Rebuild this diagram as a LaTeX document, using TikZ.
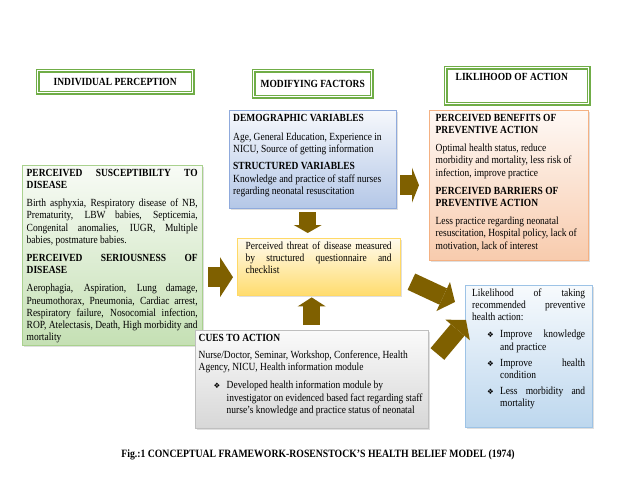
\documentclass[tikz,border=0pt]{standalone}
\usepackage{fontspec}
\setmainfont{Liberation Serif}[FakeStretch=0.87]
\newfontfamily\dingfont{DejaVu Sans}
\usepackage{tikz}
\usetikzlibrary{arrows.meta,positioning,calc,shadows}

\hyphenpenalty=10000
\exhyphenpenalty=10000
\tolerance=9999
\emergencystretch=2em

\definecolor{hdrgreen}{RGB}{112,173,71}
\definecolor{arrowbrown}{RGB}{127,96,0}
\definecolor{greenline}{RGB}{169,209,142}
\definecolor{greenfill}{RGB}{197,224,180}
\definecolor{blueline}{RGB}{143,170,220}
\definecolor{bluefill}{RGB}{180,199,231}
\definecolor{peachline}{RGB}{244,177,131}
\definecolor{peachfill}{RGB}{248,203,173}
\definecolor{yellowline}{RGB}{255,217,102}
\definecolor{yellowfill}{RGB}{255,220,110}
\definecolor{grayline}{RGB}{191,191,191}
\definecolor{grayfill}{RGB}{215,215,215}
\definecolor{skyline}{RGB}{157,195,230}
\definecolor{skyfill}{RGB}{189,215,238}

\newcommand{\dingitem}[2][5pt]{\par\vspace{#1}\hangindent=28pt\noindent\hspace*{15pt}\makebox[13pt][l]{\dingfont\fontsize{7.5}{7.5}\selectfont ❖}#2\par}

\begin{document}
\begin{tikzpicture}[x=1pt,y=-1pt,
  every node/.style={font=\fontsize{10.9}{12.2}\selectfont},
  hdrbox/.style={draw=hdrgreen,line width=1.4pt,double=white,double distance=0.9pt,fill=white,anchor=north west,
    font=\fontsize{10.9}{12.2}\selectfont\bfseries},
  panel/.style n args={4}{draw=#1,top color=#2!12!white,bottom color=#2,anchor=north west,align=#3,
    inner ysep=4pt,text height=7pt,text depth=#4,
    drop shadow={opacity=0.25,shadow xshift=1.5pt,shadow yshift=-1.5pt}},
  blockarrow/.style n args={3}{arrowbrown,line width=#1,-{Triangle[width=#2,length=#3,line width=0pt]}}]

  \useasboundingbox (0,0) rectangle (638,493);

  % column headings
  \node[hdrbox,minimum width=155pt,minimum height=22pt] (indiv) at (37,70) {INDIVIDUAL PERCEPTION};
  \node[hdrbox,minimum width=118pt,minimum height=26pt] (modif) at (253,70) {MODIFYING FACTORS};
  \node[hdrbox,text width=123pt,align=justify,inner xsep=10pt,inner ysep=6pt,text height=7pt,text depth=17pt] (likl) at (445,67) {LIKLIHOOD OF ACTION};

  % panels
  \node[panel={greenline}{greenfill}{justify}{165pt},text width=171pt,inner xsep=4.5pt] (suscept) at (22,165) {%
    \textbf{PERCEIVED SUSCEPTIBILTY TO DISEASE}\par\vspace{6pt}
    Birth asphyxia, Respiratory disease of NB, Prematurity, LBW babies, Septicemia, Congenital anomalies, IUGR, Multiple babies, postmature babies.\par\vspace{6pt}
    \textbf{PERCEIVED SERIOUSNESS OF DISEASE}\par\vspace{6pt}
    Aerophagia, Aspiration, Lung damage, Pneumothorax, Pneumonia, Cardiac arrest, Respiratory failure, Nosocomial infection, ROP, Atelectasis, Death, High morbidity and mortality};

  \node[panel={blueline}{bluefill}{justify}{83pt},text width=159pt,inner xsep=4pt] (demo) at (229,110) {\raggedright
    \textbf{DEMOGRAPHIC VARIABLES}\par\vspace{7pt}
    Age, General Education, Experience in NICU, Source of getting information\par\vspace{5pt}
    \textbf{STRUCTURED VARIABLES}\par
    Knowledge and practice of staff nurses regarding neonatal resuscitation\par};

  \node[panel={peachline}{peachfill}{justify}{135pt},text width=146pt,inner xsep=6.5pt] (benefit) at (429,110) {\raggedright
    \textbf{PERCEIVED BENEFITS OF PREVENTIVE ACTION}\par\vspace{6pt}
    Optimal health status, reduce morbidity and mortality, less risk of infection, improve practice\par\vspace{6pt}
    \textbf{PERCEIVED BARRIERS OF PREVENTIVE ACTION}\par\vspace{6pt}
    Less practice regarding neonatal resuscitation, Hospital policy, lack of motivation, lack of interest\par};

  \node[panel={yellowline}{yellowfill}{justify}{42pt},text width=146pt,inner xsep=8.5pt] (threat) at (237,238) {%
    Perceived threat of disease measured by structured questionnaire and checklist};

  \node[panel={grayline}{grayfill}{justify}{83pt},text width=226pt,inner xsep=3.5pt] (cues) at (195,330) {\raggedright
    \textbf{CUES TO ACTION}\par\vspace{5pt}
    Nurse/Doctor, Seminar, Workshop, Conference, Health Agency, NICU, Health information module
    \dingitem[6pt]{Developed health information module by investigator on evidenced based fact regarding staff nurse’s knowledge and practice status of neonatal}};

  \node[panel={skyline}{skyfill}{justify}{127pt},text width=113pt,inner xsep=7pt] (likel) at (465,285) {%
    Likelihood of taking recommended preventive health action:
    \dingitem[5pt]{Improve knowledge and practice}
    \dingitem[4pt]{Improve health condition}
    \dingitem[4pt]{Less morbidity and mortality}};

  \node[font=\fontsize{11.2}{12}\selectfont\bfseries] (caption) at (318,455) {Fig.:1 CONCEPTUAL FRAMEWORK-ROSENSTOCK’S HEALTH BELIEF MODEL (1974)};

  % block arrows
  \coordinate (sarr) at ($(suscept.east)+(0,22)$);
  \coordinate (darr) at ($(demo.east)+(0,26)$);
  \coordinate (dtop) at ($(demo.south)+(-5,0)$);
  \draw[blockarrow={20pt}{40pt}{13pt},shorten <=6pt,shorten >=4pt] (sarr) -- (sarr -| threat.west);
  \draw[blockarrow={20pt}{35pt}{7pt},shorten <=4pt,shorten >=10pt] (darr) -- (darr -| benefit.west);
  \draw[blockarrow={17pt}{28pt}{8pt},shorten <=4pt,shorten >=5pt] (dtop) -- (dtop |- threat.north);
  \draw[blockarrow={17pt}{28pt}{9pt},shorten <=5pt,shorten >=2pt] (cues.north) -- (cues.north |- threat.south);
  \draw[blockarrow={18pt}{32pt}{13pt}] ($(threat.east)+(11,15)$) -- ($(likel.north west)+(-10,17)$);
  \draw[blockarrow={18pt}{32pt}{13pt}] ($(cues.north east)+(9,24)$) -- ($(likel.north west)+(1,35)$);
\end{tikzpicture}
\end{document}
